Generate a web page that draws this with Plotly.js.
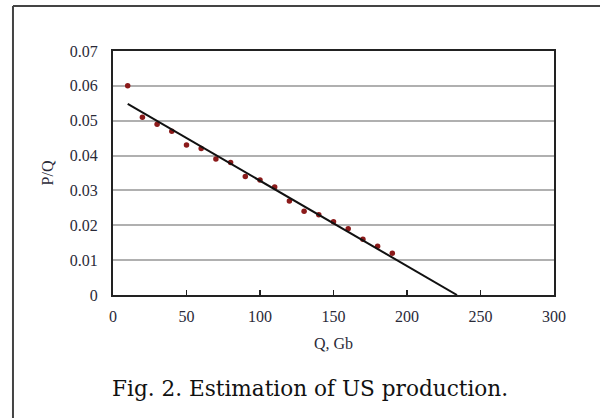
<!DOCTYPE html>
<html>
<head>
<meta charset="utf-8">
<script src="https://cdn.plot.ly/plotly-3.0.1.min.js"></script>
<style>
  html, body { margin: 0; padding: 0; background: #fff; }
  #chart { width: 600px; height: 418px; }
</style>
</head>
<body>
<div id="chart"></div>
<script>
// Observed data (Q in Gb, P/Q)
const qValues = [10, 20, 30, 40, 50, 60, 70, 80, 90, 100, 110, 120, 130, 140, 150, 160, 170, 180, 190];
const pqValues = [0.060, 0.051, 0.049, 0.047, 0.043, 0.042, 0.039, 0.038, 0.034, 0.033, 0.031, 0.027, 0.024, 0.023, 0.021, 0.019, 0.016, 0.014, 0.012];
// Fitted line endpoints
const fitQ = [10, 234];
const fitPQ = [0.0548, 0];
const xTicks = [0, 50, 100, 150, 200, 250, 300];
const yTicks = [0, 0.01, 0.02, 0.03, 0.04, 0.05, 0.06, 0.07];
const yTickText = ['0', '0.01', '0.02', '0.03', '0.04', '0.05', '0.06', '0.07'];
const captionText = 'Fig. 2. Estimation of US production.';

const tickFont = { family: 'Liberation Serif, Times New Roman, serif', size: 16, color: '#2a2a38' };

const data = [
  {
    x: qValues, y: pqValues, type: 'scatter', mode: 'markers',
    marker: { color: '#8b1a1a', size: 5.5 },
    showlegend: false, hoverinfo: 'x+y'
  },
  {
    x: fitQ, y: fitPQ, type: 'scatter', mode: 'lines',
    line: { color: '#111', width: 2 },
    showlegend: false, hoverinfo: 'skip'
  }
];

const layout = {
  width: 600, height: 418,
  paper_bgcolor: '#fff', plot_bgcolor: '#fff',
  margin: { l: 113, r: 46, t: 51, b: 123 },
  xaxis: {
    range: [0, 300], tickvals: xTicks, ticktext: xTicks.map(String),
    showgrid: false, zeroline: false,
    showline: true, linecolor: '#222', linewidth: 2, mirror: true,
    ticks: 'inside', ticklen: 5, tickwidth: 1.5, tickcolor: '#222',
    tickfont: tickFont, ticklabelstandoff: 6,
    title: { text: 'Q, Gb', font: tickFont, standoff: 14 }
  },
  yaxis: {
    range: [0, 0.07], tickvals: yTicks, ticktext: yTickText,
    showgrid: true, gridcolor: '#b0b0b0', gridwidth: 2,
    zeroline: false,
    showline: true, linecolor: '#222', linewidth: 2, mirror: true,
    ticks: '', tickfont: tickFont, ticklabelstandoff: 10,
    title: { text: 'P/Q', font: tickFont, standoff: 12 }
  },
  shapes: [
    { type: 'line', xref: 'paper', yref: 'paper', x0: -0.2268, x1: -0.2268, y0: 1.1844, y1: -0.55, line: { color: '#444', width: 2 } },
    { type: 'line', xref: 'paper', yref: 'paper', x0: -0.2268, x1: 1.12, y0: 1.1844, y1: 1.1844, line: { color: '#444', width: 2 } }
  ],
  annotations: [
    { text: captionText, xref: 'paper', yref: 'paper', x: 0.4456, y: -0.383,
      xanchor: 'center', yanchor: 'middle', showarrow: false,
      font: { family: 'DejaVu Serif, serif', size: 21.6, color: '#111' } }
  ]
};

Plotly.newPlot('chart', data, layout, { displayModeBar: false, staticPlot: true });
</script>
</body>
</html>
